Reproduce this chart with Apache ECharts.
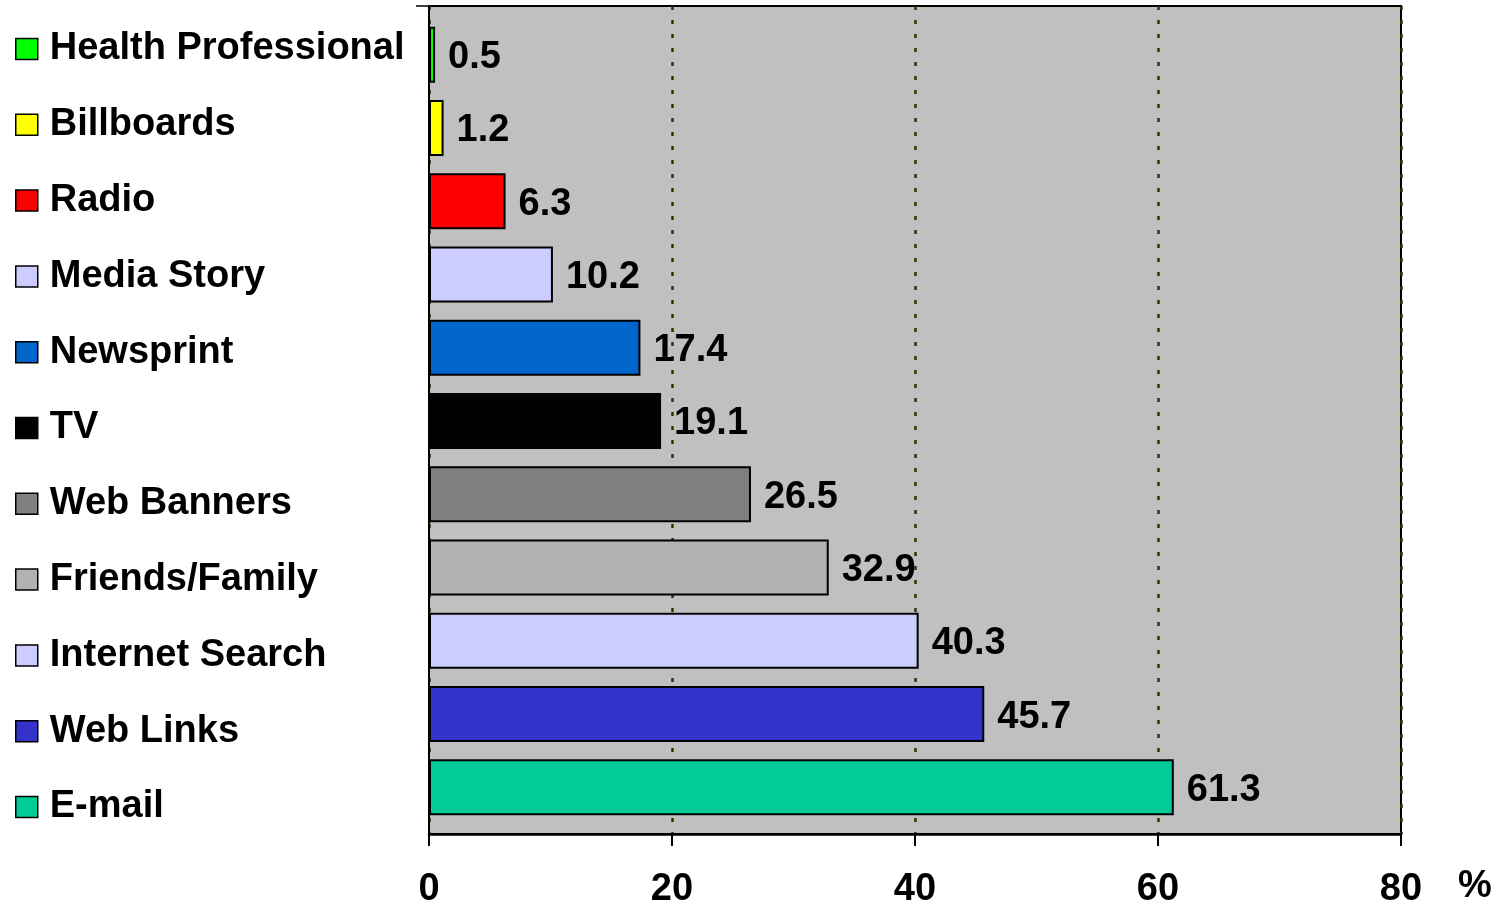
<!DOCTYPE html>
<html>
<head>
<meta charset="utf-8">
<script src="https://cdn.jsdelivr.net/npm/echarts@6/dist/echarts.min.js"></script>
<style>
  html, body { margin: 0; padding: 0; background: #fff; }
  #chart { width: 1503px; height: 908px; }
</style>
</head>
<body>
<div id="chart"></div>
<script>
// categories top to bottom, as in the legend
const categories = [
  'Health Professional', 'Billboards', 'Radio', 'Media Story', 'Newsprint', 'TV',
  'Web Banners', 'Friends/Family', 'Internet Search', 'Web Links', 'E-mail'
]
const values = [0.5, 1.2, 6.3, 10.2, 17.4, 19.1, 26.5, 32.9, 40.3, 45.7, 61.3]
const colors = [
  '#00ff00', '#ffff00', '#ff0000', '#ccccff', '#0066cc', '#000000',
  '#808080', '#b2b2b2', '#ccccff', '#3333cc', '#00cc99'
]
const xTicks = [0, 20, 40, 60, 80]

const FONT = 'Liberation Sans, Arial, sans-serif'
const FS = 38
const chart = echarts.init(document.getElementById('chart'))

// one series per category so every category gets its own legend entry
const series = categories.map((name, i) => ({
  name,
  type: 'bar',
  xAxisIndex: 1,
  yAxisIndex: 1,
  stack: 'all',
  barWidth: 56,
  data: categories.map((_, j) => (j === i ? values[i] : '-')),
  itemStyle: { color: colors[i], borderColor: '#000', borderWidth: 2 },
  label: {
    show: true,
    position: 'right',
    distance: 13,
    offset: [0, 3],
    color: '#000',
    fontSize: FS,
    fontWeight: 'bold',
    fontFamily: FONT
  }
}))

chart.setOption({
  animation: false,
  legend: {
    data: categories,
    orient: 'vertical',
    left: 15,
    top: 29,
    padding: 0,
    itemWidth: 22,
    itemHeight: 21,
    itemGap: 35.8,
    icon: 'rect',
    itemStyle: { borderColor: '#000', borderWidth: 1.5 },
    textStyle: {
      color: '#000',
      fontSize: FS,
      fontWeight: 'bold',
      fontFamily: FONT,
      lineHeight: 40,
      padding: [0, 0, 0, 7]
    }
  },
  grid: [
    {
      left: 429, right: 102, top: 6, bottom: 74,
      outerBoundsMode: 'none',
      show: true,
      backgroundColor: '#c0c0c0',
      borderColor: '#000',
      borderWidth: 2
    },
    { left: 429, right: 102, top: 18, bottom: 84, outerBoundsMode: 'none' }
  ],
  xAxis: [
    {
      gridIndex: 0,
      type: 'value',
      min: xTicks[0],
      max: xTicks[xTicks.length - 1],
      interval: 20,
      name: '%',
      nameLocation: 'end',
      nameGap: 57,
      nameTextStyle: {
        color: '#000', fontSize: FS, fontWeight: 'bold', fontFamily: FONT,
        verticalAlign: 'top', padding: [34, 0, 0, 0]
      },
      axisLine: { show: true, lineStyle: { color: '#000', width: 2.5 } },
      axisTick: { show: true, length: 12, lineStyle: { color: '#000', width: 2 } },
      axisLabel: {
        color: '#000', fontSize: FS, fontWeight: 'bold', fontFamily: FONT, margin: 37
      },
      splitLine: {
        show: true,
        lineStyle: { color: '#333300', width: 2.5, type: [4, 10] }
      }
    },
    {
      gridIndex: 1,
      type: 'value',
      min: xTicks[0],
      max: xTicks[xTicks.length - 1],
      show: false
    }
  ],
  yAxis: [
    {
      gridIndex: 0,
      type: 'value',
      min: 0,
      max: 1,
      interval: 1,
      axisLine: { show: true, lineStyle: { color: '#000', width: 2 } },
      axisTick: { show: true, length: 13, customValues: [1], lineStyle: { color: '#000', width: 1.5 } },
      axisLabel: { show: false },
      splitLine: { show: false }
    },
    {
      gridIndex: 1,
      type: 'category',
      data: categories,
      inverse: true,
      show: false
    }
  ],
  series
})
</script>
</body>
</html>
